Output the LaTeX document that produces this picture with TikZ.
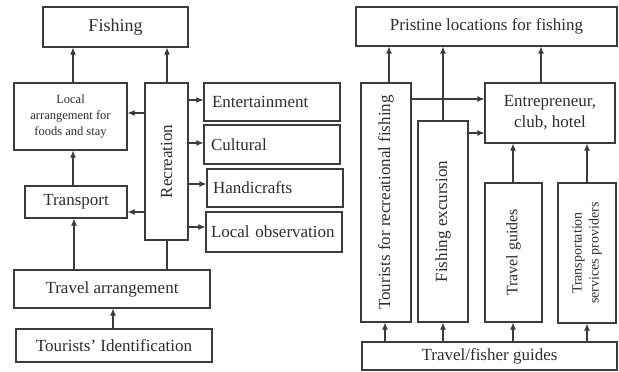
\documentclass[tikz,border=0pt]{standalone}
\usepackage{fontspec}
\setmainfont{Liberation Serif}
\usetikzlibrary{arrows.meta}
\definecolor{ln}{HTML}{3C3C3C}
\definecolor{tx}{HTML}{2E2E2E}
\tikzset{
  box/.style={draw=ln, line width=1.1pt, inner sep=0pt, text=tx, font=\fontsize{17}{20}\selectfont},
  lbox/.style={box, align=left, text width=#1},
  vtext/.style={rotate=90, inner sep=0pt, text=tx, align=center},
  arr/.style={draw=ln, line width=1.1pt, -{Latex[length=7pt,width=6pt]}},
  plain/.style={draw=ln, line width=1.1pt}
}
\begin{document}
\begin{tikzpicture}[x=1pt,y=-1pt]
\useasboundingbox[fill=white] (0,0) rectangle (619,372);
% ---------- left part ----------
\node[box, minimum width=145, minimum height=40, font=\fontsize{18}{21}\selectfont] (fish) at (115.5,27) {Fishing};
\node[box, minimum width=113, minimum height=67, align=center,
      font=\fontsize{12.5}{16}\selectfont] (local) at (70.5,116.5) {Local\\arrangement for\\foods and stay};
\node[box, minimum width=43, minimum height=157] (recr) at (166.5,161.5) {};
\node[vtext, font=\fontsize{17}{20}\selectfont] (recrt) at (recr) {Recreation};
\node[lbox=120, minimum width=136, minimum height=38] (ent) at (272,102) {Entertainment};
\node[lbox=122, minimum width=136, minimum height=39] (cult) at (272,144.5) {Cultural};
\node[lbox=124, minimum width=136, minimum height=38] (hand) at (275,188) {Handicrafts};
\node[lbox=126, minimum width=136, minimum height=40] (lobs) at (274,232) {Local observation};
\node[box, minimum width=102, minimum height=32] (trans) at (76,202) {Transport};
\node[box, minimum width=196, minimum height=38] (tarr) at (112,289) {Travel arrangement};
\node[box, minimum width=196, minimum height=33] (tid) at (114,345.5) {Tourists' Identification};
% left connectors
\draw[arr] (local.north -| 73,0) -- (73,0 |- fish.south);
\draw[arr] (recr.north -| 167,0) -- (167,0 |- fish.south);
\draw[arr] (recr.west |- 0,113) -- (local.east |- 0,113);
\draw[arr] (recr.east |- 0,100) -- (ent.west |- 0,100);
\draw[arr] (recr.east |- 0,143) -- (cult.west |- 0,143);
\draw[arr] (recr.east |- 0,184) -- (hand.west |- 0,184);
\draw[arr] (recr.east |- 0,227) -- (lobs.west |- 0,227);
\draw[arr] (recr.west |- 0,212) -- (trans.east |- 0,212);
\draw[arr] (trans.north -| 73,0) -- (73,0 |- local.south);
\draw[arr] (tarr.north -| 74,0) -- (74,0 |- trans.south);
\draw[plain] (tarr.north -| 167,0) -- (167,0 |- recr.south);
\draw[arr] (tid.north -| 113,0) -- (113,0 |- tarr.south);
% ---------- right part ----------
\node[box, minimum width=261, minimum height=39] (prist) at (486.5,26.5) {Pristine locations for fishing};
\node[box, minimum width=50, minimum height=239] (tour) at (386,202.5) {};
\node[vtext, font=\fontsize{17}{20}\selectfont] (tourt) at (tour) {Tourists for recreational fishing};
\node[box, minimum width=50, minimum height=201] (fexc) at (443,221.5) {};
\node[vtext, font=\fontsize{17}{20}\selectfont] (fexct) at (fexc) {Fishing excursion};
\node[box, minimum width=130, minimum height=60, align=center,
      font=\fontsize{17}{21}\selectfont] (entr) at (550,113) {Entrepreneur,\\club, hotel};
\node[box, minimum width=57, minimum height=139] (tguide) at (513.5,252.5) {};
\node[vtext, font=\fontsize{16}{19}\selectfont] (tguidet) at (tguide) {Travel guides};
\node[box, minimum width=58, minimum height=140] (tsp) at (587,253) {};
\node[vtext, font=\fontsize{14}{17}\selectfont] (tspt) at (tsp) {Transportation\\services providers};
\node[box, minimum width=255, minimum height=28] (tfg) at (489.5,356) {Travel/fisher guides};
% right connectors
\draw[arr] (tour.north -| 389,0) -- (389,0 |- prist.south);
\draw[arr] (fexc.north -| 443,0) -- (443,0 |- prist.south);
\draw[arr] (entr.north -| 541,0) -- (541,0 |- prist.south);
\draw[arr] (tour.east |- 0,99) -- (entr.west |- 0,99);
\draw[arr] (fexc.east |- 0,133) -- (entr.west |- 0,133);
\draw[arr] (tguide.north -| 513,0) -- (513,0 |- entr.south);
\draw[arr] (tsp.north -| 587,0) -- (587,0 |- entr.south);
\draw[arr] (tfg.north -| 385,0) -- (385,0 |- tour.south);
\draw[arr] (tfg.north -| 443,0) -- (443,0 |- fexc.south);
\draw[arr] (tfg.north -| 513,0) -- (513,0 |- tguide.south);
\draw[arr] (tfg.north -| 587,0) -- (587,0 |- tsp.south);
\end{tikzpicture}
\end{document}
